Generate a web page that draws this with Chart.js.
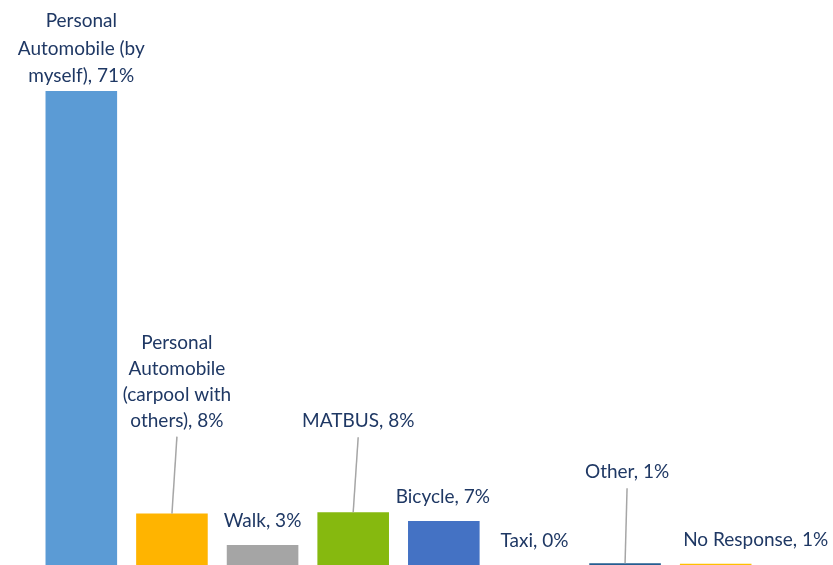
<!DOCTYPE html>
<html>
<head>
<meta charset="utf-8">
<script src="https://cdn.jsdelivr.net/npm/chart.js@4"></script>
<style>
  html, body { margin: 0; padding: 0; background: #fff; }
  #wrap { width: 833px; height: 565px; position: relative; }
</style>
</head>
<body>
<div id="wrap"><canvas id="chart"></canvas></div>
<script>
// categories and values (bar heights, labels as printed)
const categories = [
  'Personal Automobile (by myself)',
  'Personal Automobile (carpool with others)',
  'Walk',
  'MATBUS',
  'Bicycle',
  'Taxi',
  'Other',
  'No Response'
];
const values = [71, 7.7, 3, 7.9, 6.6, 0, 0.25, 0.2];
const labelPercents = [71, 8, 3, 8, 7, 0, 1, 1];
const labelLines = [
  ['Personal', 'Automobile (by', 'myself), 71%'],
  ['Personal', 'Automobile', '(carpool with', 'others), 8%'],
  ['Walk, 3%'],
  ['MATBUS, 8%'],
  ['Bicycle, 7%'],
  ['Taxi, 0%'],
  ['Other, 1%'],
  ['No Response, 1%']
];

const barColors = ['#5b9bd5', '#ffb400', '#a5a5a5', '#86b90f', '#4472c4', '#ed7d31', '#255e91', '#ffc000'];

// label placement: dx from bar centre, dy from bar top to the last line, leader line or not
const labelPlace = [
  { dx: 0, dy: 15, lh: 27.5, leader: false },
  { dx: 5, dy: 93, lh: 26, leader: true },
  { dx: 0, dy: 24, lh: 26, leader: false },
  { dx: 5, dy: 91, lh: 26, leader: true },
  { dx: -1, dy: 24, lh: 26, leader: false },
  { dx: 0, dy: 24, lh: 26, leader: false },
  { dx: 2, dy: 91, lh: 26, leader: true },
  { dx: 40, dy: 24, lh: 26, leader: false }
];

const labelPlugin = {
  id: 'barLabels',
  afterDatasetsDraw(chart) {
    const ctx = chart.ctx;
    const meta = chart.getDatasetMeta(0);
    ctx.save();
    ctx.font = '19px Lato, "Open Sans", sans-serif';
    ctx.fillStyle = '#1f3864';
    ctx.textAlign = 'center';
    ctx.textBaseline = 'middle';
    meta.data.forEach((bar, i) => {
      const p = labelPlace[i];
      const lines = labelLines[i];
      const cx = bar.x + p.dx;
      const lastY = bar.y - p.dy;
      lines.forEach((txt, j) => {
        ctx.fillText(txt, cx, lastY - (lines.length - 1 - j) * p.lh);
      });
      if (p.leader) {
        ctx.strokeStyle = '#a6a6a6';
        ctx.lineWidth = 1.5;
        ctx.beginPath();
        ctx.moveTo(cx, lastY + 16);
        ctx.lineTo(bar.x, bar.y);
        ctx.stroke();
      }
    });
    ctx.restore();
  }
};

new Chart(document.getElementById('chart').getContext('2d'), {
  type: 'bar',
  data: {
    labels: categories,
    datasets: [{
      data: values,
      backgroundColor: barColors,
      borderWidth: 0,
      categoryPercentage: 1,
      barPercentage: 0.79
    }]
  },
  options: {
    responsive: true,
    maintainAspectRatio: false,
    animation: false,
    layout: { padding: { left: 36, right: 72, top: 31, bottom: 0 } },
    scales: {
      x: { display: false },
      y: { display: false, min: 0, max: 80 }
    },
    plugins: {
      legend: { display: false },
      title: { display: false },
      tooltip: { enabled: false }
    }
  },
  plugins: [labelPlugin]
});
</script>
</body>
</html>
